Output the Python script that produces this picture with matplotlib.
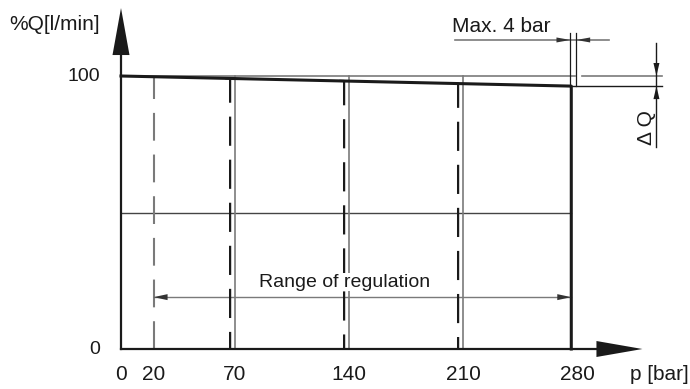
import numpy as np
import matplotlib
matplotlib.use("Agg")
import matplotlib.pyplot as plt

plt.rcParams["font.family"] = ["Liberation Sans", "DejaVu Sans"]
plt.rcParams["lines.scale_dashes"] = False

# -----------------------------
# Data
# -----------------------------
p_ticks = [0, 20, 70, 140, 210, 280]
q_ticks = [0, 100]
setpoints = [70, 140, 210]          # thin grey guide lines
branch_p = [67, 137, 207]           # dashed cut-off branches
p_min_reg = 20                      # start of regulation range
p_cut = 276.5                       # main curve cut-off
q_start = 100.0
q_end = 96.3                        # flow at end of curve (delta Q)
q_half = 50
p_max = 280
q_range_line = 19

GREY = "#7a7a7a"
BLACK = "#1a1a1a"
FS = 15


def q_curve(p):
    return q_start - (q_start - q_end) * p / p_cut


fig = plt.figure(figsize=(6.9, 3.89), dpi=100)
ax = fig.add_axes([0, 0, 1, 1])
ax.set_xlim(-74.3, 349.4)
ax.set_ylim(-14.65, 127.84)
ax.axis("off")


def head(tip, dx_px, dy_px, half_px, color=BLACK):
    # triangle arrow head, sizes given in pixels
    tx, ty = ax.transData.transform(tip)
    n = np.hypot(dx_px, dy_px)
    ux, uy = dx_px / n, dy_px / n
    bx, by = tx - dx_px, ty - dy_px
    pts = [(tx, ty), (bx - uy * half_px, by + ux * half_px),
           (bx + uy * half_px, by - ux * half_px)]
    pts = ax.transData.inverted().transform(pts)
    ax.fill(pts[:, 0], pts[:, 1], color=color, lw=0, zorder=6)


# -----------------------------
# Axes with arrows
# -----------------------------
ax.plot([0, 292], [0, 0], color=BLACK, lw=1.6, zorder=5)
ax.plot([0, 0], [0, 108], color=BLACK, lw=1.6, zorder=5)
head((320.2, 0), 46, 0, 8)
head((0, 124.9), 0, 47, 8.5)

# -----------------------------
# Guide lines
# -----------------------------
ax.plot([0, p_max - 1], [q_start, q_start], color=GREY, lw=1.2)
ax.plot([283, 332.5], [q_start, q_start], color=GREY, lw=1.2)
ax.plot([276, 332.5], [q_end, q_end], color=BLACK, lw=1.0)
ax.plot([0, p_cut], [q_half, q_half], color="#444444", lw=1.0)

for p in setpoints:
    ax.plot([p, p], [0, q_start], color=GREY, lw=1.2)
ax.plot([p_min_reg, p_min_reg], [0, q_start], color=GREY, lw=1.5,
        dashes=(20, 10))

# -----------------------------
# Characteristic curves
# -----------------------------
for p in branch_p:
    ax.plot([p - 3, p, p], [q_curve(p - 3), q_curve(p), 0], color=BLACK,
            lw=1.6, dashes=(21, 10), solid_joinstyle="round",
            dash_joinstyle="round", zorder=4)

ax.plot([0, p_cut, p_cut], [q_start, q_end, 0], color=BLACK, lw=2.2,
        solid_joinstyle="round", zorder=4)

# -----------------------------
# Range of regulation
# -----------------------------
ax.plot([p_min_reg, p_cut], [q_range_line, q_range_line], color=GREY, lw=1.0)
head((p_min_reg, q_range_line), -14, 0, 3, color="#333333")
head((p_cut, q_range_line), 14, 0, 3, color="#333333")
ax.text(137, 24.5, "Range of regulation", fontsize=14, ha="center",
        va="center", color=BLACK, zorder=7,
        bbox=dict(facecolor="white", edgecolor="none", pad=0.5))

# -----------------------------
# Max. 4 bar dimension
# -----------------------------
ax.plot([205, 299.4], [113.2, 113.2], color=GREY, lw=1.2)
ax.plot([276, 276], [q_end, 115.8], color=BLACK, lw=0.9)
ax.plot([279.5, 279.5], [q_end, 115.8], color=BLACK, lw=0.9)
head((276, 113.2), 14, 0, 2.5, color="#333333")
head((279.5, 113.2), -14, 0, 2.5, color="#333333")
ax.text(203.5, 118.3, "Max. 4 bar", fontsize=FS, ha="left", va="center",
        color=BLACK)

# -----------------------------
# Delta Q dimension
# -----------------------------
ax.plot([328.8, 328.8], [74, 112], color=BLACK, lw=1.0)
head((328.8, q_start), 0, -13, 3)
head((328.8, q_end), 0, 13, 3)
ax.text(322.5, 81, "Δ Q", fontsize=FS, rotation=90, ha="center",
        va="center", color=BLACK)

# -----------------------------
# Labels
# -----------------------------
for p in p_ticks:
    ax.text(p, -9.2, str(p), fontsize=FS, ha="center", va="center",
            color=BLACK)
for q in q_ticks:
    ax.text(-12.9, q, str(q), fontsize=14, ha="right", va="center",
            color=BLACK)
ax.text(312.5, -9.2, "p [bar]", fontsize=FS, ha="left", va="center",
        color=BLACK)
ax.text(-12.9, 118.7, "%Q[l/min]", fontsize=FS, ha="right", va="center",
        color=BLACK)

fig.savefig("out.png", dpi=100)
